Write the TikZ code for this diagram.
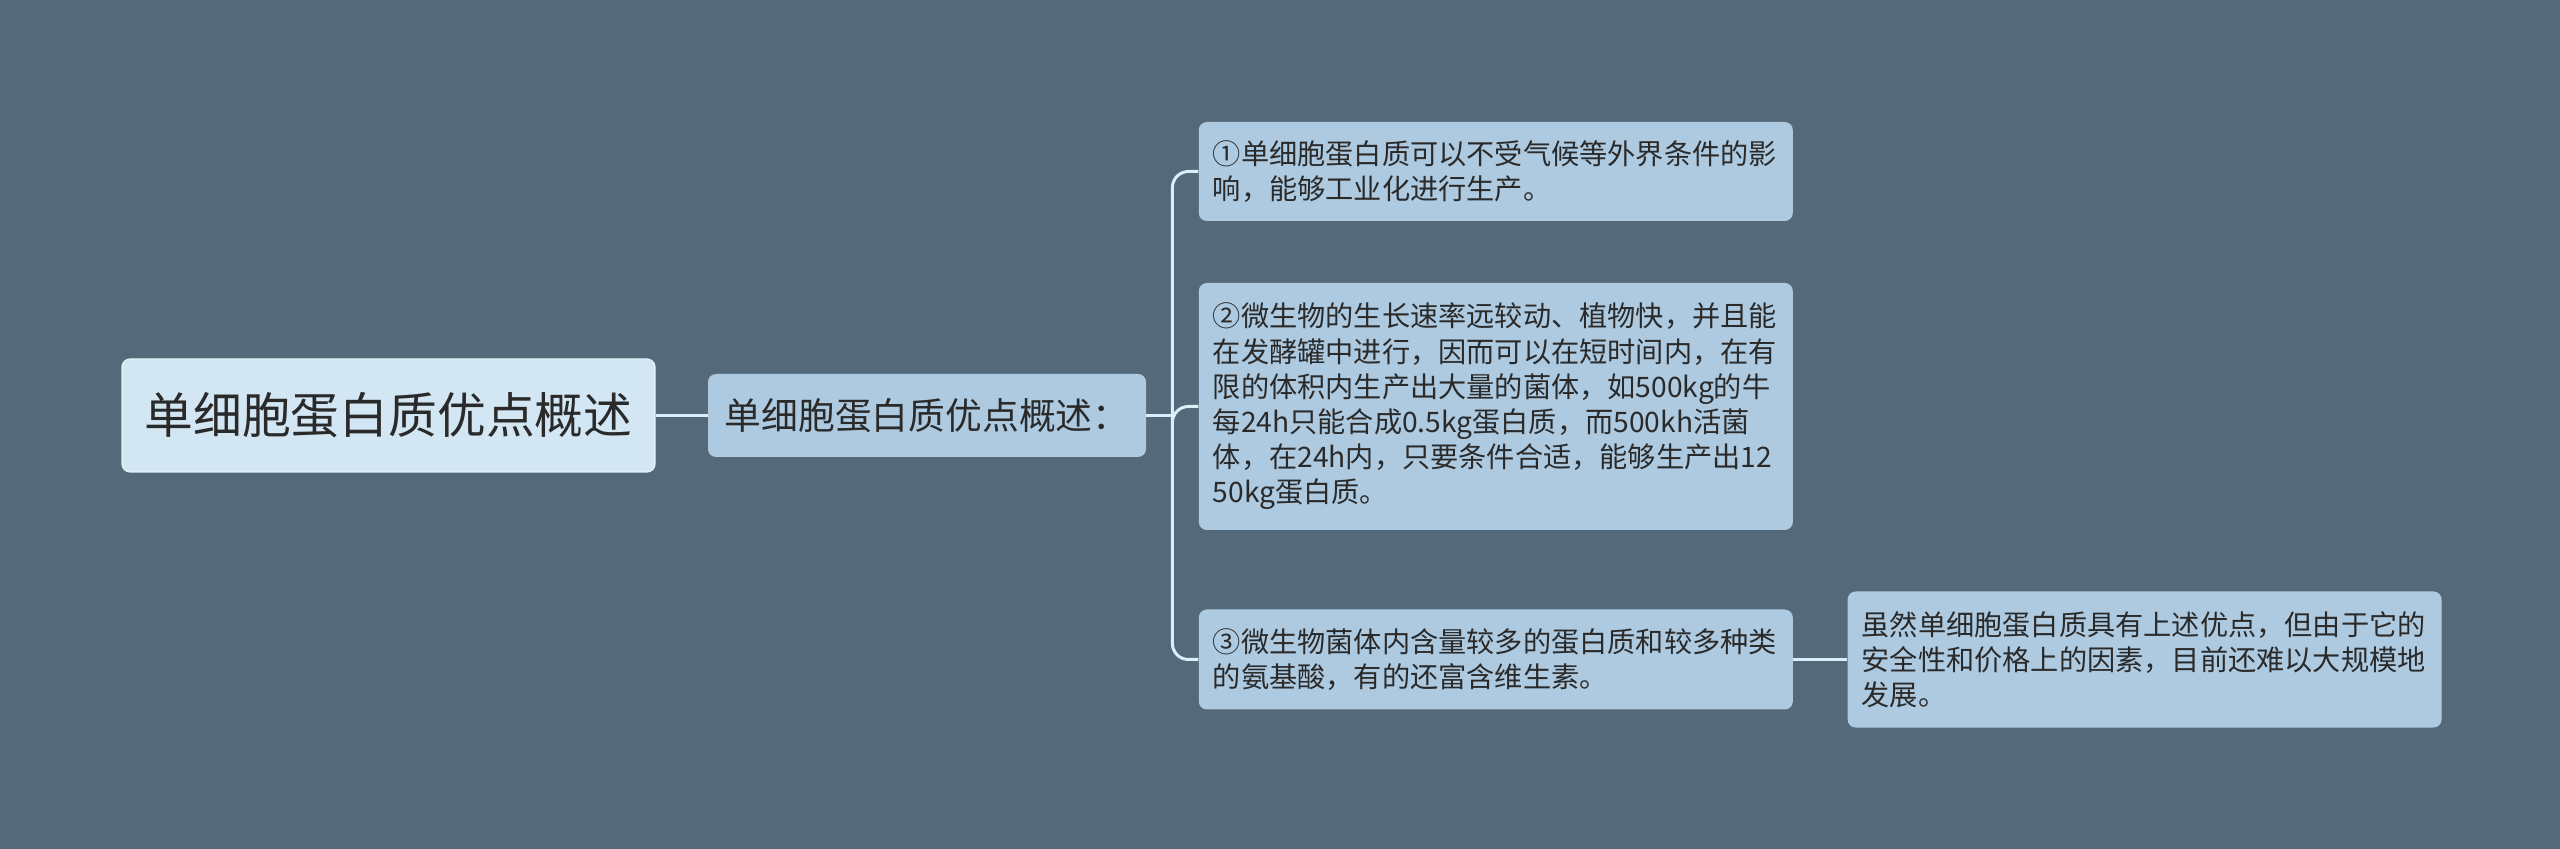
\documentclass[tikz,border=0pt]{standalone}
\usepackage{fontspec}
\newfontfamily\cjk{Noto Sans CJK SC}
\usetikzlibrary{positioning}

\begin{document}
\begin{tikzpicture}[x=0.5pt,y=-0.5pt,
  root node/.style={rectangle,rounded corners=4pt,fill=rootblue,draw=rootline,line width=0.6pt,text=ink,
    minimum width=266.5pt,minimum height=56.5pt,inner sep=0pt,font=\cjk\fontsize{24.4pt}{30pt}\selectfont},
  sub node/.style={rectangle,rounded corners=4pt,fill=leafblue,text=ink,
    minimum width=219pt,minimum height=41.5pt,inner sep=0pt,font=\cjk\fontsize{18.4pt}{22pt}\selectfont},
  leaf node/.style={rectangle,rounded corners=4pt,fill=leafblue,text=ink,text width=283pt,
    inner xsep=7pt,inner ysep=0pt,align=left,font=\cjk\fontsize{14.1pt}{17.6pt}\selectfont},
  link/.style={draw=linkblue,line width=1.5pt}]
  \definecolor{bgslate}{HTML}{546A7A}
  \definecolor{rootblue}{HTML}{D2E6F3}
  \definecolor{rootline}{HTML}{E4F1F9}
  \definecolor{leafblue}{HTML}{AECAE0}
  \definecolor{linkblue}{HTML}{DCEEF9}
  \definecolor{ink}{HTML}{2A2A2A}

  \fill[bgslate] (0,0) rectangle (2560,849);

  \node[root node] (root) at (388.5,415.5) {单细胞蛋白质优点概述};
  \node[sub node] (sub) [right=26pt of root] {单细胞蛋白质优点概述：};
  \coordinate[right=13pt of sub.east] (fork);

  \node[leaf node,minimum height=49.5pt] (p1) [right=26pt of sub,yshift=122pt]
    {①单细胞蛋白质可以不受气候等外界条件的影\\响，能够工业化进行生产。};
  \node[leaf node,minimum height=123.5pt] (p2) [right=26pt of sub,yshift=4.5pt]
    {②微生物的生长速率远较动、植物快，并且能\\在发酵罐中进行，因而可以在短时间内，在有\\限的体积内生产出大量的菌体，如500kg的牛\\每24h只能合成0.5kg蛋白质，而500kh活菌\\体，在24h内，只要条件合适，能够生产出12\\50kg蛋白质。};
  \node[leaf node,minimum height=50pt] (p3) [right=26pt of sub,yshift=-122pt]
    {③微生物菌体内含量较多的蛋白质和较多种类\\的氨基酸，有的还富含维生素。};
  \node[leaf node,minimum height=68pt] (note) [right=27pt of p3]
    {虽然单细胞蛋白质具有上述优点，但由于它的\\安全性和价格上的因素，目前还难以大规模地\\发展。};

  \draw[link] (root) -- (sub);
  \draw[link] (sub.east) -- (fork);
  \draw[link,rounded corners=8pt] (fork) |- (p1.west) (fork) |- (p2.west) (fork) |- (p3.west);
  \draw[link] (p3) -- (note);
\end{tikzpicture}
\end{document}
